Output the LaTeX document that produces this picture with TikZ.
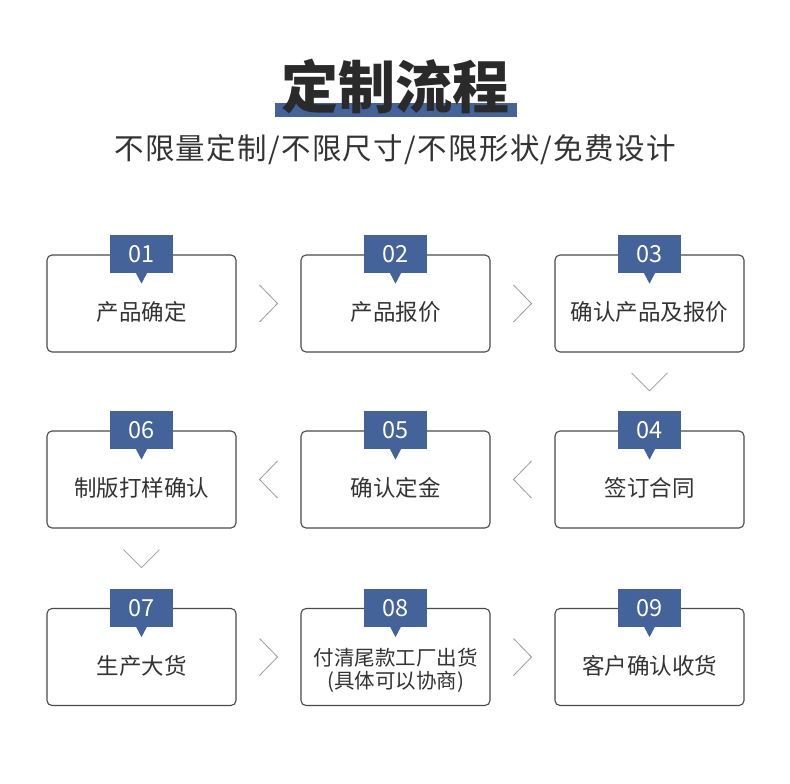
\documentclass[tikz,border=0pt]{standalone}
\usepackage{fontspec}
\setmainfont{Noto Sans CJK SC}
\usetikzlibrary{calc}
\definecolor{tabblue}{HTML}{44639A}
\definecolor{txt}{HTML}{333333}
\definecolor{titletxt}{HTML}{2A2A2A}
\definecolor{boxline}{HTML}{4A4A4A}
\definecolor{chevgray}{HTML}{9A9A9A}
\newcommand\mystep[6]{%
  \node[stepbox] (#1) at (#2,#3) {};
  \node[tabbox] (#1t) at (#1.north) {#4};
  \fill[tabblue] ($(#1t.south)+(-5.5,-0.5)$) -- ($(#1t.south)+(5.5,-0.5)$) -- ($(#1t.south)+(0,10)$) -- cycle;
  \node[steptext] (#1l) at ($(#1.center)+(0,#6)$) {#5};
}
\newcommand\chevR[1]{\draw[chev,shift={(#1)}] (-9,-18.5) -- (9,0) -- (-9,18.5);}
\newcommand\chevL[1]{\draw[chev,shift={(#1)}] (9,-18.5) -- (-9,0) -- (9,18.5);}
\newcommand\chevD[1]{\draw[chev,shift={(#1)}] (-18,-9) -- (0,9) -- (18,-9);}
\begin{document}
\begin{tikzpicture}[x=1pt,y=-1pt,
  stepbox/.style={draw=boxline,line width=1.1pt,rounded corners=5pt,minimum width=189pt,minimum height=97pt,inner sep=0pt},
  tabbox/.style={fill=tabblue,minimum width=63pt,minimum height=38pt,inner sep=0pt,text=white,font=\fontsize{23.5}{23.5}\selectfont},
  steptext/.style={text=txt,font=\fontsize{22.5}{24}\selectfont,align=center,inner sep=0pt},
  chev/.style={draw=chevgray,line width=0.8pt}]
\useasboundingbox[fill=white] (0,0) rectangle (790,784);
% title
\fill[tabblue] (275,103) rectangle (517,117);
\node[text=titletxt,font=\fontsize{57}{57}\selectfont\bfseries,inner sep=0pt] (title) at (395.5,86) {定制流程};
\node[text=txt,font=\fontsize{29.5}{29.5}\selectfont\addfontfeature{LetterSpace=4.5},inner sep=0pt] (sub) at (395,150) {不限量定制/不限尺寸/不限形状/免费设计};
% steps
\mystep{b1}{141.5}{303.5}{01}{产品确定}{8.5}
\mystep{b2}{395.5}{303.5}{02}{产品报价}{8.5}
\mystep{b3}{649.5}{303.5}{03}{确认产品及报价}{8.5}
\mystep{b4}{649.5}{479.5}{04}{签订合同}{8.5}
\mystep{b5}{395.5}{479.5}{05}{确认定金}{8.5}
\mystep{b6}{141.5}{479.5}{06}{制版打样确认}{8.5}
\mystep{b7}{141.5}{657}{07}{生产大货}{8.5}
\node[stepbox] (b8) at (395.5,657) {};
\node[tabbox] (b8t) at (b8.north) {08};
\fill[tabblue] ($(b8t.south)+(-5.5,-0.5)$) -- ($(b8t.south)+(5.5,-0.5)$) -- ($(b8t.south)+(0,10)$) -- cycle;
\node[steptext,font=\fontsize{20.5}{23}\selectfont] (b8l) at ($(b8.center)+(0,13.5)$) {付清尾款工厂出货\\(具体可以协商)};
\mystep{b9}{649.5}{657}{09}{客户确认收货}{8.5}
% chevrons
\coordinate (c12) at ($(b1.east)!0.5!(b2.west)$);
\coordinate (c23) at ($(b2.east)!0.5!(b3.west)$);
\coordinate (c34) at ($(b3.south)!0.5!(b4t.north)$);
\coordinate (c45) at ($(b4.west)!0.5!(b5.east)$);
\coordinate (c56) at ($(b5.west)!0.5!(b6.east)$);
\coordinate (c67) at ($(b6.south)!0.5!(b7t.north)$);
\coordinate (c78) at ($(b7.east)!0.5!(b8.west)$);
\coordinate (c89) at ($(b8.east)!0.5!(b9.west)$);
\chevR{c12}\chevR{c23}\chevD{c34}\chevL{c45}\chevL{c56}\chevD{c67}\chevR{c78}\chevR{c89}
\end{tikzpicture}
\end{document}
